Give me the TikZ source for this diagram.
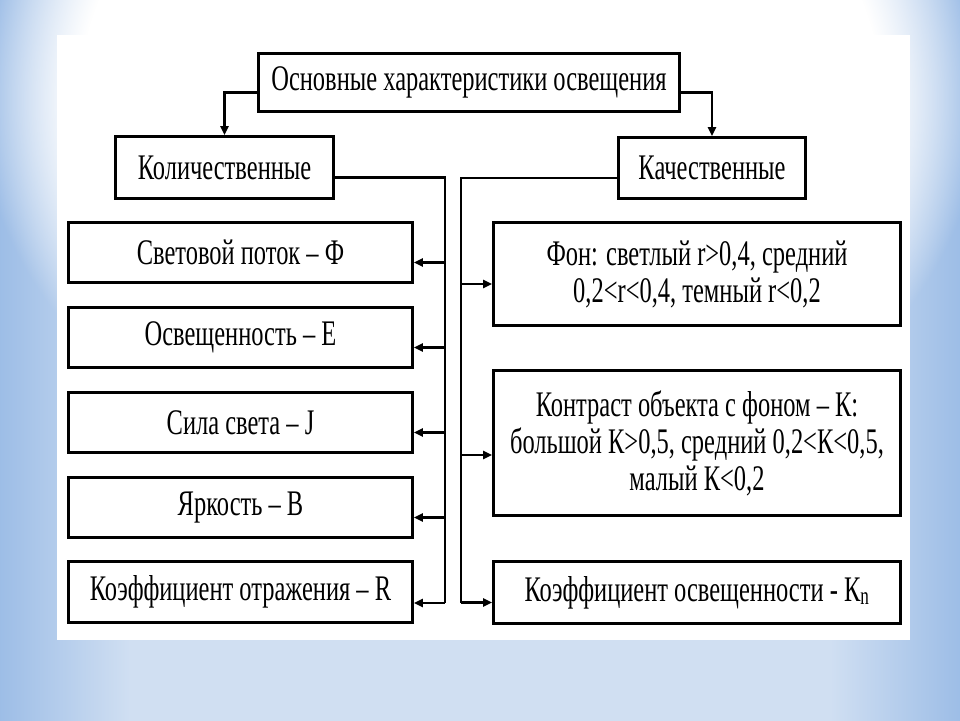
\documentclass[tikz,border=0pt]{standalone}
\usepackage{fontspec}
\setmainfont{Liberation Serif}[FakeStretch=0.68]
\usepackage{tikz}
\usetikzlibrary{positioning}
\usetikzlibrary{arrows.meta,fadings}
\definecolor{bgblue}{RGB}{155,188,230}
\definecolor{bglight}{RGB}{208,223,242}
\newcommand{\boxfont}{\fontsize{36}{37}\selectfont}

\begin{document}
\begin{tikzpicture}[x=1pt,y=-1pt,
  box/.style={draw,line width=2.8pt,fill=white,inner sep=0pt,align=center,font=\boxfont},
  link/.style={line width=2.2pt},
  arr/.style={link,-{Triangle[length=9pt,width=8pt]}}]
\useasboundingbox (0,0) rectangle (960,720);
\fill [bglight] (-5,-5) rectangle (965,725);
\shade [left color=bgblue,right color=bglight] (-5,-5) rectangle (130,725);
\shade [left color=bglight,right color=bgblue] (830,-5) rectangle (965,725);
\fill [white,path fading=circle with fuzzy edge 20 percent] (-20,-300) rectangle (980,500);
\fill [white] (57,35) rectangle (910,640);

\path
(469,82.5) node [box,minimum width=421pt,minimum height=58pt](main) {Основные характеристики освещения}
(224.5,167.5) node [box,minimum width=218pt,minimum height=62pt](kol) {Количественные}
(712,168) node [box,minimum width=187pt,minimum height=61pt](kach) {Качественные}
(240.5,252.5) node [box,minimum width=344pt,minimum height=60pt](l1) {Световой поток – Ф}
(240.5,337.5) node [box,minimum width=344pt,minimum height=60pt](l2) {Освещенность – Е}
(240.5,422.5) node [box,minimum width=344pt,minimum height=60pt](l3) {Сила света – J}
(240.5,507.5) node [box,minimum width=344pt,minimum height=60pt](l4) {Яркость – В}
(240.5,592) node [box,minimum width=344pt,minimum height=61pt](l5) {Коэффициент отражения – R}
(697,274) node [box,minimum width=407pt,minimum height=103pt](r1) {Фон: светлый r>0,4, средний\\0,2<r<0,4, темный r<0,2}
(697,443) node [box,minimum width=407pt,minimum height=145pt](r2) {Контраст объекта с фоном – К:\\большой К>0,5, средний 0,2<К<0,5,\\малый К<0,2}
(697,592.5) node [box,minimum width=407pt,minimum height=62pt](r3) {Коэффициент освещенности - К\textsubscript{n}};

\draw [arr] ([yshift=-10pt]main.west) -| (kol.north);
\draw [arr] ([yshift=-10pt]main.east) -| (kach.north);
\draw [link] ([yshift=-10pt]kol.east) -| ([xshift=31pt,yshift=-11pt]l5.east);
\draw [link] ([yshift=-10pt]kach.west) -| ([xshift=-31pt,yshift=-10pt]r3.west);
\foreach \n in {l1,l2,l3,l4}
  \draw [arr] ([yshift=-10pt]\n.east) ++(31,0) -- ([yshift=-10pt]\n.east);
\draw [arr] ([yshift=-11pt]l5.east) ++(31,0) -- ([yshift=-11pt]l5.east);
\foreach \n in {r1,r3}
  \draw [arr] ([yshift=-10pt]\n.west) ++(-31,0) -- ([yshift=-10pt]\n.west);
\draw [arr] ([yshift=-12pt]r2.west) ++(-31,0) -- ([yshift=-12pt]r2.west);

\end{tikzpicture}
\end{document}
